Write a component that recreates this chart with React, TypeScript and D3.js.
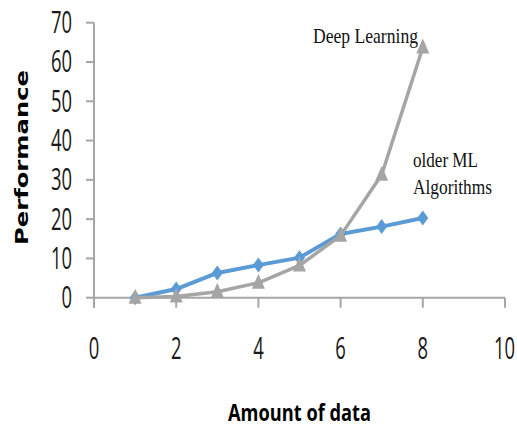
import React from "react";
import * as d3 from "d3";

const xValues = [1, 2, 3, 4, 5, 6, 7, 8];
const olderML = [0, 2.2, 6.3, 8.3, 10.2, 16.2, 18.1, 20.3];
const deepLearning = [0, 0.3, 1.5, 3.8, 8.2, 15.8, 31.3, 63.7];
const xTicks = [0, 2, 4, 6, 8, 10];
const yTicks = [0, 10, 20, 30, 40, 50, 60, 70];

const W = 517;
const H = 427;
const AXIS = "#a6a6a6";
const BLUE = "#5b9bd5";
const GRAY = "#a5a5a5";
const TICKFONT = "'Open Sans', sans-serif";
const SY = 1.64;

export default function App() {
  const x = d3.scaleLinear().domain([0, 10]).range([94, 505]);
  const y = d3.scaleLinear().domain([0, 70]).range([297.7, 22.7]);

  const line = d3
    .line<number>()
    .x((_, i) => x(xValues[i]))
    .y((d) => y(d));

  const diamond = (cx: number, cy: number) =>
    `M${cx},${cy - 7.5} L${cx + 5.5},${cy} L${cx},${cy + 7.5} L${cx - 5.5},${cy} Z`;
  const triangle = (cx: number, cy: number) =>
    `M${cx},${cy - 9} L${cx + 6.5},${cy + 6} L${cx - 6.5},${cy + 6} Z`;

  return (
    <svg
      width={W}
      height={H}
      style={{ position: "absolute", left: 0, top: 0, background: "#fff" }}
    >
      {/* Y axis */}
      <line x1={x(0)} x2={x(0)} y1={y(70)} y2={y(0) + 10} stroke={AXIS} strokeWidth={2} />
      {yTicks.map((t) => (
        <g key={"y" + t}>
          <line x1={x(0) - 8} x2={x(0)} y1={y(t)} y2={y(t)} stroke={AXIS} strokeWidth={2} />
          <text
            transform={`translate(72,${y(t) + 10.5}) scale(1,${SY})`}
            textAnchor="end"
            fontFamily={TICKFONT}
            fontSize={18.4}
            fill="#1a1a1a"
          >
            {t}
          </text>
        </g>
      ))}
      {/* X axis */}
      <line x1={x(0)} x2={x(10)} y1={y(0)} y2={y(0)} stroke={AXIS} strokeWidth={2} />
      {xTicks.map((t) => (
        <g key={"x" + t}>
          <line x1={x(t)} x2={x(t)} y1={y(0)} y2={y(0) + 10} stroke={AXIS} strokeWidth={2} />
          <text
            transform={`translate(${t === 10 ? x(t) - 0.5 : x(t)},359) scale(1,${SY})`}
            textAnchor="middle"
            fontFamily={TICKFONT}
            fontSize={18.4}
            fill="#1a1a1a"
          >
            {t}
          </text>
        </g>
      ))}

      {/* Series: older ML */}
      <path d={line(olderML) || ""} fill="none" stroke={BLUE} strokeWidth={4} strokeLinejoin="round" />
      {olderML.map((v, i) => (
        <path key={"b" + i} d={diamond(x(xValues[i]), y(v))} fill={BLUE} />
      ))}

      {/* Series: deep learning */}
      <path d={line(deepLearning) || ""} fill="none" stroke={GRAY} strokeWidth={3.5} strokeLinejoin="round" />
      {deepLearning.map((v, i) => (
        <path key={"g" + i} d={triangle(x(xValues[i]), y(v))} fill={GRAY} />
      ))}

      {/* Series labels */}
      <text
        x={313}
        y={43}
        fontFamily="'Liberation Serif', serif"
        fontSize={22}
        fill="#111"
        textLength={105}
        lengthAdjust="spacingAndGlyphs"
      >
        Deep Learning
      </text>
      <text
        x={413}
        y={166.5}
        fontFamily="'Liberation Serif', serif"
        fontSize={22}
        fill="#111"
        textLength={65}
        lengthAdjust="spacingAndGlyphs"
      >
        older ML
      </text>
      <text
        x={413}
        y={193.5}
        fontFamily="'Liberation Serif', serif"
        fontSize={22}
        fill="#111"
        textLength={79}
        lengthAdjust="spacingAndGlyphs"
      >
        Algorithms
      </text>

      {/* Axis titles */}
      <text
        transform={`translate(28,157.5) rotate(-90)`}
        textAnchor="middle"
        fontFamily="'DejaVu Sans', sans-serif"
        fontWeight="bold"
        fontSize={17.5}
        fill="#000"
        textLength={175}
        lengthAdjust="spacingAndGlyphs"
      >
        Performance
      </text>
      <text
        x={228}
        y={421}
        fontFamily={TICKFONT}
        fontWeight="bold"
        fontSize={23}
        fill="#000"
        textLength={143}
        lengthAdjust="spacingAndGlyphs"
      >
        Amount of data
      </text>
    </svg>
  );
}
